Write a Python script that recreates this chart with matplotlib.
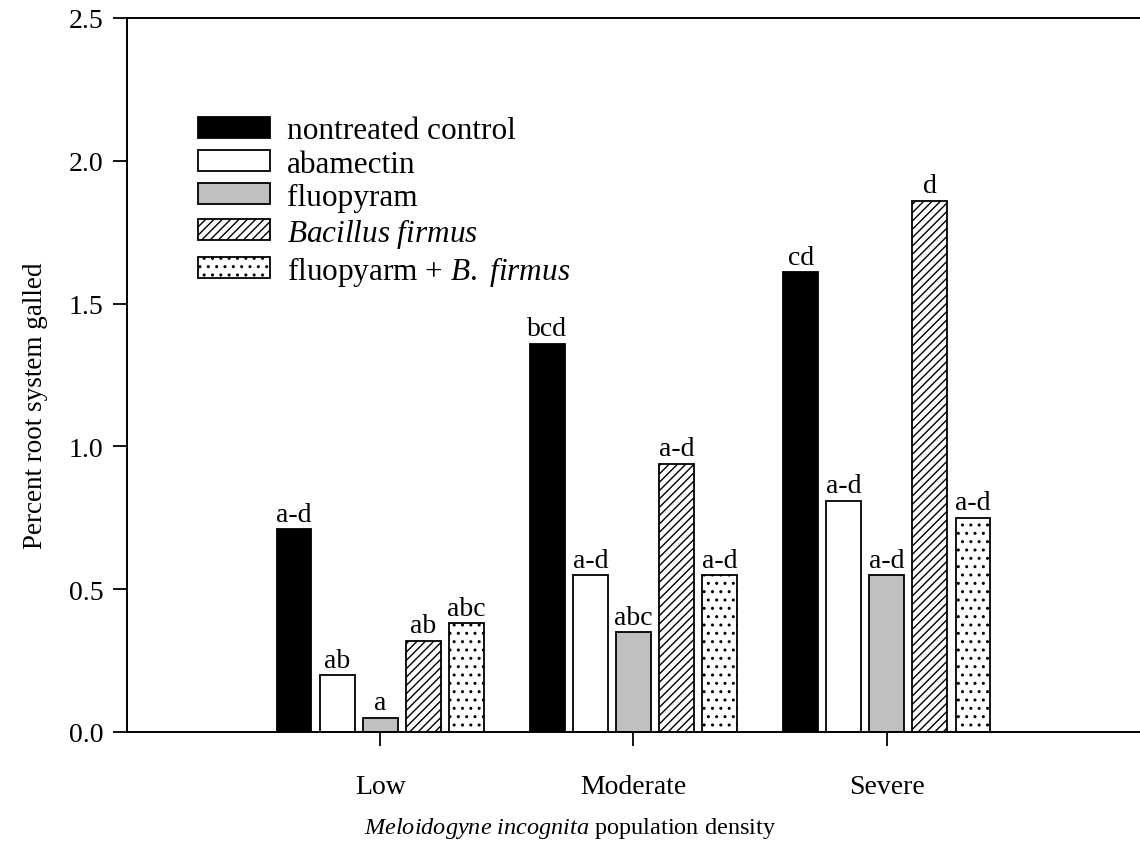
import matplotlib.pyplot as plt
import numpy as np

plt.rcParams['font.family'] = 'Liberation Serif'
plt.rcParams['mathtext.fontset'] = 'custom'
plt.rcParams['mathtext.rm'] = 'Liberation Serif'
plt.rcParams['mathtext.it'] = 'Liberation Serif:italic'
plt.rcParams['hatch.linewidth'] = 1.0

# data
densities = ['Low', 'Moderate', 'Severe']
treatments = ['nontreated control', 'abamectin', 'fluopyram',
              r'$\mathit{Bacillus\ firmus}$', r'fluopyarm + $\mathit{B.\ firmus}$']
control = [0.71, 1.36, 1.61]
abamectin = [0.20, 0.55, 0.81]
fluopyram = [0.05, 0.35, 0.55]
bacillus = [0.32, 0.94, 1.86]
combo = [0.38, 0.55, 0.75]
letters = [['a-d', 'bcd', 'cd'],
           ['ab', 'a-d', 'a-d'],
           ['a', 'abc', 'a-d'],
           ['ab', 'a-d', 'd'],
           ['abc', 'a-d', 'a-d']]

series = [control, abamectin, fluopyram, bacillus, combo]
colors = ['black', 'white', '#c0c0c0', 'white', 'white']
hatches = [None, None, None, '////', '..']

fig = plt.figure(figsize=(11.4, 8.54), dpi=100)
ax = fig.add_axes([0.1114, 0.1417, 0.8886, 0.8361])

x = np.arange(1, len(densities) + 1)
pitch = 0.17
width = 0.137
for i, vals in enumerate(series):
    pos = x + (i - 2) * pitch
    ax.bar(pos, vals, width, color=colors[i], edgecolor='black',
           linewidth=1.3, hatch=hatches[i], label=treatments[i])
    for p, v, t in zip(pos, vals, letters[i]):
        ax.text(p, v + 0.008, t, ha='center', va='bottom', fontsize=20)

ax.set_xlim(0, 4)
ax.set_ylim(0, 2.5)
ax.set_xticks(x)
ax.set_xticklabels(densities, fontsize=20)
ax.set_yticks(np.arange(0, 2.51, 0.5))
ax.set_yticklabels(['%.1f' % v for v in np.arange(0, 2.51, 0.5)], fontsize=20)
ax.tick_params(direction='out', length=10, width=1.3, pad=7)
ax.tick_params(axis='x', pad=20)
for s in ax.spines.values():
    s.set_linewidth(1.4)
ax.spines['right'].set_visible(False)

ax.set_ylabel('Percent root system galled', fontsize=19.5)
ax.yaxis.set_label_coords(-0.078, 0.458)
ax.set_xlabel(r'$\mathit{Meloidogyne\ incognita}$ population density',
              fontsize=17.5)
ax.xaxis.set_label_coords(0.437, -0.116)

ax.legend(loc='upper left', bbox_to_anchor=(0.070, 0.862), frameon=False,
          fontsize=22.5, handlelength=2.3, handleheight=0.64,
          labelspacing=0.13, handletextpad=0.55, borderaxespad=0,
          borderpad=0)

fig.savefig('out.png', dpi=100)
